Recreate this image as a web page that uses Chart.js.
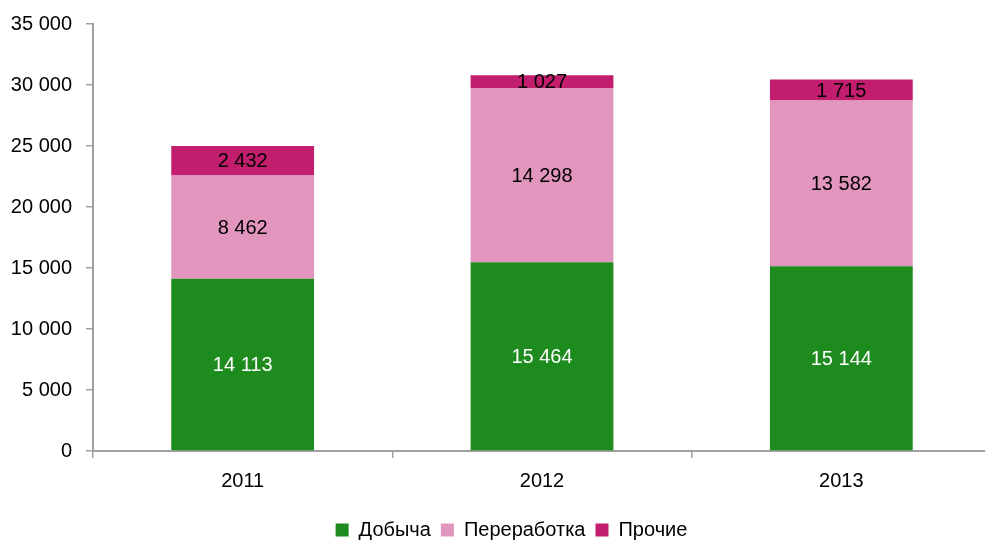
<!DOCTYPE html>
<html>
<head>
<meta charset="utf-8">
<script src="https://cdn.jsdelivr.net/npm/chart.js@4/dist/chart.umd.min.js"></script>
<style>
  html, body { margin: 0; padding: 0; background: #fff; overflow: hidden; }
  #wrap { width: 995px; height: 550px; }
</style>
</head>
<body>
<div id="wrap"><canvas id="chart"></canvas></div>
<script>
const years = ['2011', '2012', '2013'];
const mining = [14113, 15464, 15144];
const processing = [8462, 14298, 13582];
const other = [2432, 1027, 1715];

const fontFamily = '"Liberation Sans", Arial, sans-serif';
const fontSize = 20;

function fmt(v) {
  return String(v).replace(/\B(?=(\d{3})+(?!\d))/g, ' ');
}

// centered value labels inside each segment
const segmentLabels = {
  id: 'segmentLabels',
  afterLayout(chart) {
    // legend sits a bit right of the canvas centre in the original
    chart.legend.left += 32;
  },
  afterDatasetsDraw(chart) {
    const ctx = chart.ctx;
    ctx.save();
    ctx.font = fontSize + 'px ' + fontFamily;
    ctx.textAlign = 'center';
    ctx.textBaseline = 'middle';
    chart.data.datasets.forEach((ds, i) => {
      const meta = chart.getDatasetMeta(i);
      meta.data.forEach((bar, j) => {
        ctx.fillStyle = i === 0 ? '#ffffff' : '#000000';
        ctx.fillText(fmt(ds.data[j]), bar.x, (bar.y + bar.base) / 2 + 1);
      });
    });
    ctx.restore();
  }
};

const ctx = document.getElementById('chart').getContext('2d');
new Chart(ctx, {
  type: 'bar',
  data: {
    labels: years,
    datasets: [
      { label: 'Добыча', data: mining, backgroundColor: '#1E8B1E' },
      { label: 'Переработка', data: processing, backgroundColor: '#E296BE' },
      { label: 'Прочие', data: other, backgroundColor: '#C31D6E' }
    ]
  },
  options: {
    responsive: true,
    maintainAspectRatio: false,
    animation: false,
    layout: { padding: { top: 22, left: 0, right: 4, bottom: 0 } },
    datasets: { bar: { categoryPercentage: 1, barPercentage: 0.477 } },
    plugins: {
      legend: {
        position: 'bottom',
        labels: {
          color: '#000',
          font: { family: fontFamily, size: fontSize },
          boxWidth: 13,
          boxHeight: 13,
          padding: 10
        }
      },
      tooltip: { enabled: false }
    },
    scales: {
      x: {
        stacked: true,
        grid: { drawOnChartArea: false, color: '#A0A0A0', tickLength: 7, lineWidth: 1.5 },
        border: { color: '#A0A0A0', width: 2 },
        ticks: { color: '#000', font: { family: fontFamily, size: fontSize }, padding: 11 },
        afterFit: s => { s.height = 59; }
      },
      y: {
        stacked: true,
        min: 0,
        max: 35000,
        grid: { drawOnChartArea: false, color: '#A0A0A0', tickLength: 7, lineWidth: 1.5 },
        border: { color: '#A0A0A0', width: 2 },
        ticks: {
          stepSize: 5000,
          color: '#000',
          font: { family: fontFamily, size: fontSize, lineHeight: 1 },
          padding: 14,
          callback: v => fmt(v)
        },
        afterFit: s => { s.width = 93; }
      }
    }
  },
  plugins: [segmentLabels]
});
</script>
</body>
</html>
